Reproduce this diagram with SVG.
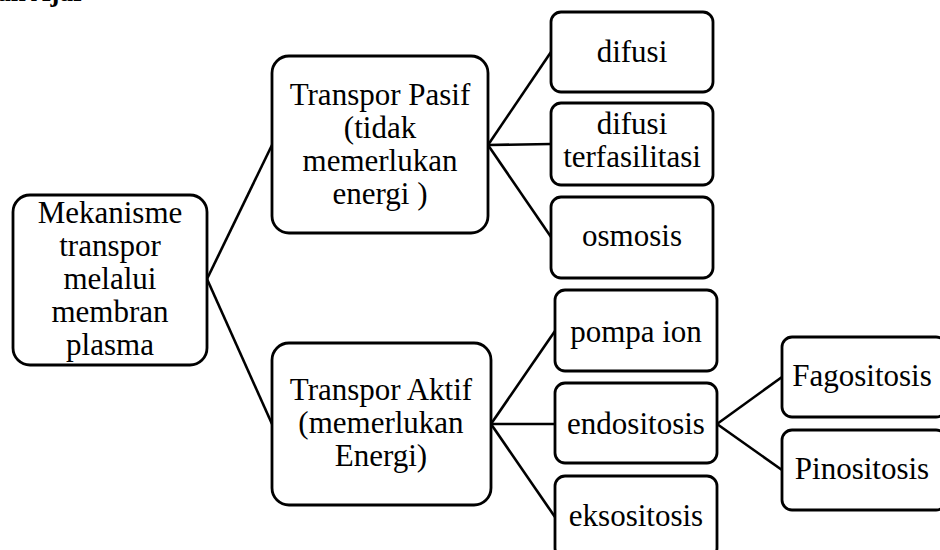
<svg xmlns="http://www.w3.org/2000/svg" width="940" height="550" viewBox="0 0 940 550">
<style>
.box{fill:#fff;stroke:#000;stroke-width:2.8}
.t{font-family:"Liberation Serif","Times New Roman",serif;font-size:31px;fill:#000;text-anchor:middle}
.c{fill:none;stroke:#000;stroke-width:2.6}
.h{font-family:"Liberation Serif","Times New Roman",serif;font-size:27px;font-weight:bold;fill:#000;text-anchor:end}
</style>
<rect width="940" height="550" fill="#fff"/>
<text class="h" x="85" y="1">Bahan Ajar</text>
<g id="connectors">
<line class="c" x1="207" y1="279" x2="272" y2="145"/>
<line class="c" x1="207" y1="279" x2="272" y2="424"/>
<line class="c" x1="488" y1="145" x2="551" y2="52"/>
<line class="c" x1="488" y1="145" x2="551" y2="144"/>
<line class="c" x1="488" y1="145" x2="551" y2="237"/>
<line class="c" x1="491" y1="424" x2="555" y2="331"/>
<line class="c" x1="491" y1="424" x2="555" y2="424"/>
<line class="c" x1="491" y1="424" x2="555" y2="517"/>
<line class="c" x1="717" y1="424" x2="782" y2="377"/>
<line class="c" x1="717" y1="424" x2="782" y2="470"/>
</g>
<g id="root">
<rect class="box" x="13" y="195" width="194" height="170" rx="17"/>
<text class="t" x="110" y="223">Mekanisme</text>
<text class="t" x="110" y="256">transpor</text>
<text class="t" x="110" y="289">melalui</text>
<text class="t" x="110" y="322">membran</text>
<text class="t" x="110" y="355">plasma</text>
</g>
<g id="pasif">
<rect class="box" x="272" y="56" width="216" height="177" rx="17"/>
<text class="t" x="380" y="105">Transpor Pasif</text>
<text class="t" x="380" y="138">(tidak</text>
<text class="t" x="380" y="171">memerlukan</text>
<text class="t" x="380" y="204">energi )</text>
</g>
<g id="aktif">
<rect class="box" x="272" y="343" width="219" height="162" rx="17"/>
<text class="t" x="381" y="400">Transpor Aktif</text>
<text class="t" x="381" y="433">(memerlukan</text>
<text class="t" x="381" y="466">Energi)</text>
</g>
<g id="difusi">
<rect class="box" x="551" y="12" width="162" height="80" rx="10"/>
<text class="t" x="632" y="62">difusi</text>
</g>
<g id="difusi-terfasilitasi">
<rect class="box" x="551" y="103" width="162" height="82" rx="10"/>
<text class="t" x="632" y="134">difusi</text>
<text class="t" x="632" y="167">terfasilitasi</text>
</g>
<g id="osmosis">
<rect class="box" x="551" y="197" width="162" height="81" rx="10"/>
<text class="t" x="632" y="246">osmosis</text>
</g>
<g id="pompa-ion">
<rect class="box" x="555" y="290" width="162" height="81" rx="10"/>
<text class="t" x="636" y="342">pompa ion</text>
</g>
<g id="endositosis">
<rect class="box" x="555" y="383" width="162" height="80" rx="10"/>
<text class="t" x="636" y="434">endositosis</text>
</g>
<g id="eksositosis">
<rect class="box" x="555" y="476" width="162" height="82" rx="10"/>
<text class="t" x="636" y="526">eksositosis</text>
</g>
<g id="fagositosis">
<rect class="box" x="782" y="337" width="164" height="80" rx="10"/>
<text class="t" x="862" y="386">Fagositosis</text>
</g>
<g id="pinositosis">
<rect class="box" x="782" y="430" width="164" height="80" rx="10"/>
<text class="t" x="862" y="479">Pinositosis</text>
</g>
</svg>
